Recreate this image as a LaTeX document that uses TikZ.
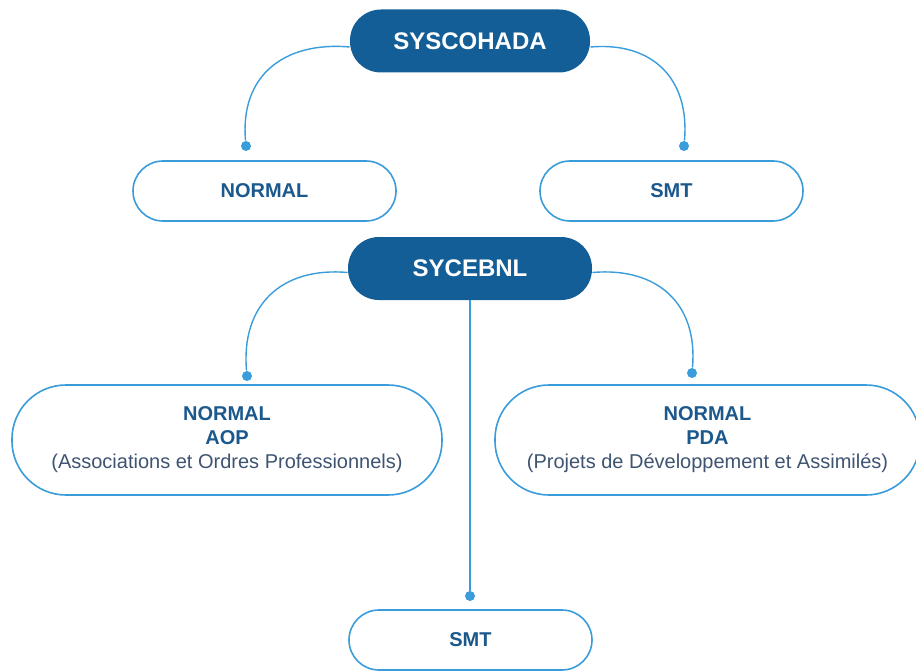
\documentclass[tikz,border=0pt]{standalone}
\usepackage{fontspec}
\setmainfont{Liberation Sans}
\definecolor{darkblue}{RGB}{19,94,150}
\definecolor{lineblue}{RGB}{58,156,218}
\definecolor{textblue}{RGB}{27,88,140}
\definecolor{notegray}{RGB}{62,84,112}
\newcommand{\note}[1]{{\mdseries\color{notegray}#1}}

\begin{document}
\begin{tikzpicture}[x=0.5pt,y=0.5pt,
  darkbox/.style={fill=darkblue,text=white,font=\fontsize{12}{14}\selectfont\bfseries,
    rounded corners=15.5pt,minimum width=120pt,minimum height=31.5pt},
  lightbox/.style={draw=lineblue,line width=0.8pt,fill=white,text=textblue,align=center,
    font=\fontsize{10}{12}\selectfont\bfseries,rounded corners=15pt,minimum width=131.5pt,minimum height=30pt},
  bigbox/.style={lightbox,rounded corners=27pt,minimum height=55pt},
  link/.style={draw=lineblue,line width=0.7pt,looseness=1.2},
  dot/.style={circle,fill=lineblue,inner sep=0pt,minimum size=5pt}]

 \useasboundingbox (0,0) rectangle (916,671);

 \node[darkbox] (syscohada) at (470,630) {SYSCOHADA};
 \node[lightbox] (normal) at (264.5,480) {NORMAL};
 \node[lightbox] (smt) at (671.5,480) {SMT};

 \node[darkbox,minimum width=122pt] (sycebnl) at (470,402.5) {SYCEBNL};
 \node[bigbox,minimum width=215pt] (aop) at (227,231)
   {NORMAL\\AOP\\\note{(Associations et Ordres Professionnels)}};
 \node[bigbox,minimum width=212.5pt] (pda) at (707.5,231)
   {NORMAL\\PDA\\\note{(Projets de Développement et Assimilés)}};
 \node[lightbox,minimum width=121.5pt] (smtbas) at (470.5,31) {SMT};

 \node[dot] (dnormal) at (246,525) {};
 \node[dot] (dsmt) at (684,525) {};
 \node[dot] (daop) at (247,295) {};
 \node[dot] (dpda) at (692,298) {};
 \node[dot] (dsmtbas) at (470,75) {};

 \draw[link] ([yshift=-3pt]syscohada.west) to[out=175,in=95] (dnormal);
 \draw[link] ([yshift=-3pt]syscohada.east) to[out=5,in=85] (dsmt);
 \draw[link] ([yshift=-2pt]sycebnl.west) to[out=175,in=95] (daop);
 \draw[link] ([yshift=-2pt]sycebnl.east) to[out=5,in=85] (dpda);
 \draw[link] (sycebnl.south) -- (dsmtbas);

\end{tikzpicture}
\end{document}
